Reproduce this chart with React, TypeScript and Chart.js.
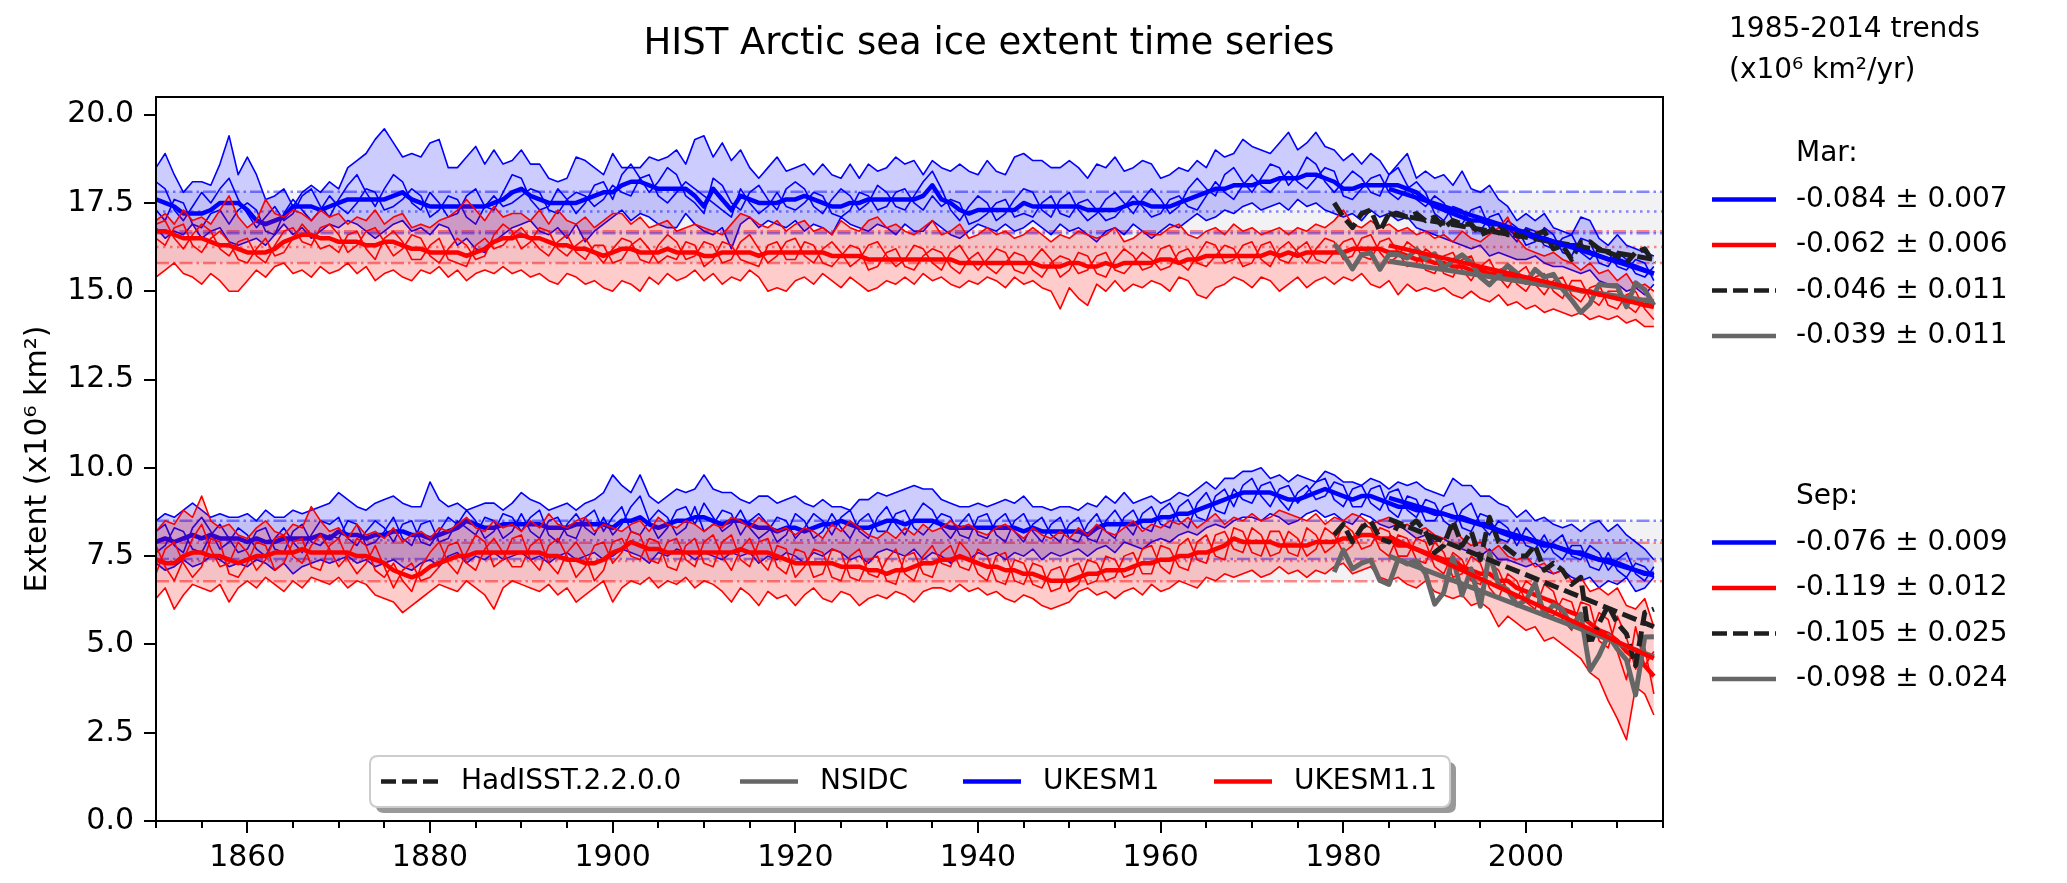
import React, { useEffect, useRef } from 'react';
import { Chart, registerables } from 'chart.js';

Chart.register(...registerables);

// ---------- categories ----------
const FIRST_YEAR = 1850;
const LAST_YEAR = 2014;
const YEARS = Array.from({ length: LAST_YEAR - FIRST_YEAR + 1 }, (_, i) => FIRST_YEAR + i);
const OBS_YEARS = Array.from({ length: 36 }, (_, i) => 1979 + i);
const TREND_YEARS = [1985, 2014];
const REF_SPAN = [1850, 2015];
const X_TICKS = [1860, 1880, 1900, 1920, 1940, 1960, 1980, 2000];
const Y_TICKS = [0, 2.5, 5, 7.5, 10, 12.5, 15, 17.5, 20];

// ---------- March, UKESM1 ensemble ----------
const MAR_UKESM1_MEAN = [
  17.6, 17.5, 17.4, 17.2, 17.2, 17.2, 17.3, 17.5, 17.5, 17.5,
  17.3, 17.0, 16.9, 17.0, 17.1, 17.4, 17.4, 17.4, 17.3, 17.4,
  17.5, 17.6, 17.6, 17.6, 17.6, 17.6, 17.7, 17.8, 17.6, 17.5,
  17.4, 17.4, 17.4, 17.4, 17.4, 17.4, 17.4, 17.5, 17.6, 17.8,
  17.9, 17.7, 17.6, 17.5, 17.5, 17.5, 17.5, 17.6, 17.7, 17.8,
  17.8, 18.0, 18.1, 18.1, 18.0, 17.9, 17.9, 17.9, 17.9, 17.7,
  17.4, 17.9, 17.6, 17.3, 17.7, 17.6, 17.5, 17.5, 17.5, 17.6,
  17.6, 17.7, 17.6, 17.5, 17.4, 17.4, 17.5, 17.5, 17.6, 17.6,
  17.6, 17.6, 17.6, 17.6, 17.7, 18.0, 17.6, 17.5, 17.3, 17.2,
  17.3, 17.3, 17.3, 17.3, 17.3, 17.5, 17.4, 17.4, 17.4, 17.4,
  17.4, 17.4, 17.3, 17.3, 17.3, 17.3, 17.4, 17.5, 17.5, 17.4,
  17.4, 17.4, 17.5, 17.6, 17.7, 17.8, 17.9, 17.9, 18.0, 18.0,
  18.0, 18.1, 18.1, 18.2, 18.2, 18.2, 18.3, 18.3, 18.2, 18.1,
  17.9, 17.9, 18.0, 18.0, 18.0, 18.0, 18.0, 17.9, 17.8, 17.6,
  17.4, 17.3, 17.2, 17.1, 17.0, 17.0, 16.9, 16.9, 16.8, 16.6,
  16.6, 16.5, 16.5, 16.4, 16.3, 16.3, 16.3, 16.1, 16.0, 15.9,
  15.9, 15.8, 15.7, 15.6, 15.5,
];
const MAR_UKESM1_MAX = [
  18.5, 18.9, 18.3, 17.8, 18.1, 18.1, 18.0, 18.6, 19.4, 18.3,
  18.8, 18.3, 17.6, 17.7, 17.9, 17.4, 17.8, 18.0, 17.8, 18.1,
  17.9, 18.5, 18.7, 18.9, 19.3, 19.6, 19.2, 18.8, 18.9, 18.8,
  19.2, 19.3, 18.5, 18.5, 18.8, 19.1, 18.6, 19.0, 18.6, 18.7,
  19.0, 18.6, 18.6, 18.2, 18.1, 18.2, 18.8, 18.7, 18.5, 18.3,
  18.9, 18.5, 18.5, 18.5, 18.8, 18.7, 18.8, 19.0, 18.6, 19.3,
  19.4, 18.8, 19.2, 18.7, 19.0, 18.5, 18.2, 18.5, 18.8, 18.4,
  18.5, 18.6, 18.3, 18.6, 18.3, 18.2, 18.6, 18.2, 18.6, 18.4,
  18.5, 18.8, 18.6, 18.7, 18.3, 18.7, 18.5, 18.4, 18.6, 18.4,
  18.3, 18.7, 18.4, 18.3, 18.8, 18.9, 18.7, 18.7, 18.5, 18.5,
  18.7, 18.5, 18.2, 18.6, 18.5, 18.8, 18.4, 18.5, 18.7, 18.6,
  18.2, 18.3, 18.5, 18.4, 18.7, 18.5, 19.0, 18.8, 18.9, 19.3,
  19.1, 19.0, 18.9, 19.2, 19.5, 19.0, 19.2, 19.5, 19.1, 19.0,
  18.7, 18.9, 18.6, 18.9, 18.7, 18.3, 18.6, 18.9, 18.2, 18.4,
  18.2, 18.3, 18.0, 18.4, 17.9, 17.8, 18.0, 17.6, 17.4, 17.0,
  17.2, 17.0, 17.2, 16.8, 16.7, 16.6, 17.1, 17.0, 16.5, 16.3,
  16.6, 16.3, 16.2, 16.1, 16.0,
];
const MAR_UKESM1_MIN = [
  16.8, 16.5, 16.7, 16.6, 16.9, 16.5, 16.7, 16.8, 16.4, 16.3,
  16.4, 16.5, 16.3, 16.6, 16.9, 16.6, 16.8, 16.5, 16.7, 16.9,
  16.8, 17.0, 16.9, 16.7, 16.5, 16.7, 16.9, 17.0, 16.7, 16.8,
  16.6, 16.9, 16.8, 16.3, 16.5, 16.2, 16.1, 16.4, 16.6, 16.8,
  16.9, 17.0, 16.7, 16.6, 16.8, 16.5, 16.9, 16.4, 16.7, 16.9,
  17.1, 17.3, 17.0, 17.2, 17.1, 16.9, 16.8, 16.8, 17.2, 16.9,
  16.7, 16.6, 16.8, 16.2, 16.9, 17.1, 16.8, 17.0, 16.9, 16.8,
  17.0, 16.7, 16.9, 16.8, 16.6, 17.1, 16.9, 16.8, 16.7, 16.9,
  16.8, 16.6, 16.9, 16.7, 16.7, 17.0, 16.8, 16.6, 16.5, 16.7,
  16.9, 16.8, 16.7, 16.9, 16.7, 16.8, 17.0, 16.8, 16.6, 16.9,
  16.7, 16.8, 16.6, 16.4, 16.7, 16.8, 16.6, 16.9, 16.7, 16.5,
  16.7, 16.9, 16.8, 17.0, 17.2, 17.0, 17.1, 17.3, 17.2, 17.4,
  17.5, 17.3, 17.4, 17.5, 17.3, 17.6, 17.4, 17.5, 17.3, 17.2,
  17.1, 17.2, 17.0, 17.3, 17.1, 17.2, 17.0, 17.1, 16.8, 16.7,
  16.6, 16.5, 16.4, 16.3, 16.2, 16.3, 16.0, 16.1, 16.0, 15.9,
  15.9, 16.0, 15.8, 15.7, 15.7, 15.6, 15.5, 15.6, 15.3, 15.2,
  15.2, 15.0, 15.1, 14.9, 15.2,
];
const MAR_UKESM1_RUN_A = [
  18.1, 17.9, 17.3, 17.0, 17.4, 17.8, 17.5, 17.9, 18.2, 17.6,
  17.2, 16.8, 17.1, 17.4, 17.0, 17.2, 17.7, 17.9, 17.4, 17.1,
  17.6, 18.0, 18.3, 17.8, 17.4, 17.9, 18.3, 18.1, 17.5, 17.3,
  17.8, 17.5, 17.1, 17.2, 17.7, 17.9, 17.4, 17.3, 17.8, 18.3,
  18.2, 17.6, 17.3, 17.4, 17.9, 17.6, 17.2, 17.5, 18.0, 18.1,
  17.6, 18.3, 18.6, 18.2, 17.8, 18.1, 18.5, 18.3, 17.7, 17.5,
  17.2, 18.2, 18.0, 17.5, 17.3, 17.8, 18.0, 17.6, 17.3, 17.9,
  18.1, 17.9, 17.4, 17.2, 17.6, 17.9, 17.7, 17.3, 17.5, 18.0,
  17.8, 17.4, 17.3, 17.7, 18.1, 18.4, 17.9, 17.3, 17.0, 17.4,
  17.7, 17.5, 17.0, 17.2, 17.6, 17.9, 17.8, 17.3, 17.1, 17.6,
  17.8, 17.3, 17.0, 17.2, 17.6, 17.8, 17.5, 17.2, 17.6, 17.9,
  17.6, 17.2, 17.4, 17.9, 18.2, 17.9, 17.7, 18.3, 18.5, 18.1,
  17.8, 18.2, 18.6, 18.5, 18.0, 18.3, 18.8, 18.6, 18.1, 17.8,
  18.1, 18.4, 18.2, 17.8, 17.7, 18.3, 18.5, 18.0, 17.6, 17.4,
  17.7, 17.5, 17.0, 16.9, 17.3, 17.4, 16.8, 16.6, 17.0, 16.8,
  16.3, 16.4, 16.8, 16.6, 16.1, 16.0, 16.5, 16.4, 15.8, 15.7,
  16.1, 15.9, 15.5, 15.4, 15.7,
];
const MAR_UKESM1_RUN_B = [
  17.3, 17.0, 17.6, 17.5, 16.9, 16.8, 17.2, 17.3, 16.9, 17.3,
  17.5, 17.3, 16.7, 16.6, 17.2, 17.6, 17.3, 17.0, 17.3, 17.7,
  17.4, 17.2, 17.5, 17.9, 17.8, 17.3, 17.4, 17.6, 17.9, 17.7,
  17.1, 17.3, 17.7, 17.6, 17.1, 16.9, 17.4, 17.7, 17.4, 17.5,
  17.7, 17.9, 17.8, 17.3, 17.2, 17.6, 17.8, 17.7, 17.4, 17.6,
  18.0, 17.8, 17.7, 18.2, 18.3, 17.7, 17.5, 17.8, 18.1, 17.9,
  17.7, 17.5, 17.3, 17.1, 17.9, 17.5, 17.2, 17.4, 17.8, 17.4,
  17.3, 17.5, 17.8, 17.7, 17.2, 17.1, 17.3, 17.8, 17.7, 17.3,
  17.4, 17.8, 17.9, 17.5, 17.3, 17.7, 17.4, 17.6, 17.5, 16.9,
  17.0, 17.2, 17.5, 17.6, 17.1, 17.2, 17.1, 17.5, 17.7, 17.2,
  17.1, 17.5, 17.6, 17.3, 17.0, 17.1, 17.4, 17.7, 17.4, 17.1,
  17.2, 17.6, 17.7, 17.4, 17.3, 17.7, 18.1, 17.8, 17.6, 18.0,
  18.3, 18.0, 17.8, 18.1, 18.4, 18.1, 17.9, 18.2, 18.5, 18.4,
  17.7, 17.6, 17.9, 18.2, 18.3, 17.8, 17.6, 17.9, 18.1, 17.8,
  17.2, 17.0, 17.4, 17.3, 16.8, 16.7, 17.1, 17.2, 16.7, 16.4,
  16.8, 16.7, 16.3, 16.2, 16.5, 16.6, 16.1, 15.9, 16.2, 16.1,
  15.7, 15.6, 15.9, 15.8, 15.3,
];

// ---------- March, UKESM1.1 ensemble ----------
const MAR_UKESM11_MEAN = [
  16.7, 16.7, 16.6, 16.5, 16.5, 16.5, 16.4, 16.3, 16.3, 16.2,
  16.1, 16.1, 16.1, 16.2, 16.4, 16.5, 16.6, 16.6, 16.5, 16.5,
  16.4, 16.4, 16.4, 16.3, 16.3, 16.4, 16.4, 16.3, 16.2, 16.2,
  16.1, 16.1, 16.1, 16.1, 16.0, 16.1, 16.2, 16.4, 16.5, 16.5,
  16.6, 16.5, 16.5, 16.4, 16.3, 16.3, 16.2, 16.2, 16.1, 16.0,
  16.1, 16.2, 16.2, 16.1, 16.1, 16.1, 16.2, 16.1, 16.1, 16.1,
  16.0, 16.0, 16.1, 16.1, 16.1, 16.1, 16.0, 16.1, 16.1, 16.1,
  16.1, 16.1, 16.1, 16.1, 16.0, 16.0, 16.0, 16.0, 15.9, 15.9,
  15.9, 15.9, 15.9, 15.9, 15.9, 15.9, 15.9, 15.9, 15.8, 15.8,
  15.8, 15.8, 15.8, 15.8, 15.8, 15.8, 15.8, 15.7, 15.7, 15.7,
  15.8, 15.8, 15.7, 15.7, 15.8, 15.7, 15.8, 15.8, 15.8, 15.8,
  15.9, 15.9, 15.8, 15.9, 15.9, 16.0, 16.0, 16.0, 16.0, 16.0,
  16.0, 16.0, 16.1, 16.0, 16.1, 16.0, 16.1, 16.1, 16.1, 16.1,
  16.1, 16.2, 16.2, 16.2, 16.2, 16.1, 16.1, 16.0, 15.9, 15.9,
  15.8, 15.8, 15.7, 15.7, 15.6, 15.6, 15.5, 15.5, 15.4, 15.4,
  15.3, 15.3, 15.2, 15.2, 15.1, 15.1, 15.0, 15.0, 14.9, 14.9,
  14.8, 14.8, 14.7, 14.6, 14.6,
];
const MAR_UKESM11_MAX = [
  17.0, 17.2, 16.9, 17.3, 17.0, 17.1, 16.9, 17.3, 17.7, 17.1,
  16.8, 17.0, 17.6, 17.2, 17.1, 17.3, 17.2, 17.0, 17.3, 17.1,
  17.2, 16.9, 17.1, 17.0, 17.3, 16.9, 17.1, 17.2, 16.8, 16.9,
  16.8, 17.0, 17.1, 17.3, 17.6, 17.3, 17.0, 17.4, 17.1, 17.2,
  17.2, 17.0, 17.3, 16.9, 17.3, 17.0, 16.9, 17.1, 16.8, 17.0,
  17.2, 17.2, 16.9, 17.1, 16.8, 16.9, 17.0, 16.7, 16.8, 16.9,
  16.8, 16.7, 16.6, 16.9, 17.2, 17.1, 16.9, 16.8, 17.0, 16.7,
  16.9, 17.0, 16.7, 16.8, 16.6, 17.0, 16.8, 16.7, 17.0, 17.1,
  16.8, 16.9, 16.7, 16.6, 16.8, 17.0, 16.6, 16.7, 16.9, 16.5,
  16.6, 16.8, 16.6, 16.7, 16.5, 16.6, 16.8, 16.6, 16.4, 16.6,
  16.5, 16.7, 16.6, 16.5, 16.6, 16.8, 16.4, 16.5, 16.7, 16.6,
  16.6, 16.8, 16.9, 16.6, 16.5, 16.7, 16.8, 16.6, 16.9, 16.7,
  16.8, 16.6, 16.7, 16.8, 16.6, 16.8, 16.7, 16.9, 16.8, 17.0,
  17.3, 16.9, 16.8, 17.0, 16.8, 16.9, 16.7, 16.8, 16.6, 16.7,
  16.5, 16.6, 16.4, 16.7, 16.5, 16.4, 16.6, 16.8, 17.1, 16.5,
  16.2, 16.1, 16.0, 16.1, 15.9, 15.8, 15.6, 15.8, 15.5, 15.6,
  15.3, 15.5, 15.1, 15.2, 15.0,
];
const MAR_UKESM11_MIN = [
  15.4, 15.6, 15.8, 15.5, 15.4, 15.2, 15.5, 15.3, 15.0, 15.0,
  15.3, 15.6, 15.4, 15.7, 15.8, 15.5, 15.6, 15.4, 15.7, 15.5,
  15.6, 15.8, 15.5, 15.7, 15.3, 15.5, 15.6, 15.4, 15.3, 15.6,
  15.5, 15.7, 15.4, 15.6, 15.3, 15.5, 15.6, 15.5, 15.7, 15.5,
  15.6, 15.4, 15.5, 15.3, 15.2, 15.5, 15.4, 15.2, 15.3, 15.1,
  15.0, 15.3, 15.2, 15.0, 15.4, 15.2, 15.5, 15.3, 15.4, 15.6,
  15.3, 15.5, 15.2, 15.4, 15.3, 15.6, 15.4, 15.0, 15.1, 15.0,
  15.3, 15.4, 15.2, 15.5, 15.3, 15.1, 15.4, 15.2, 15.0, 15.1,
  15.3, 15.2, 15.4, 15.2, 15.5, 15.3, 15.4, 15.2, 15.1, 15.3,
  15.2, 15.4, 15.3, 15.1, 15.4, 15.2, 15.3, 15.1, 15.0, 14.5,
  15.1, 14.8, 14.6, 15.2, 15.0, 15.3, 15.0, 15.2, 15.1, 15.3,
  15.2, 15.0, 15.4, 15.3, 14.9, 14.8, 15.1, 15.2, 15.4, 15.3,
  15.1, 15.4, 15.3, 15.0, 15.2, 15.4, 15.1, 15.3, 15.4, 15.2,
  15.4, 15.3, 15.5, 15.2, 15.1, 15.3, 14.9, 15.2, 15.0, 15.1,
  15.0, 15.1, 14.9, 14.8, 15.0, 14.8, 14.7, 14.9, 14.6, 14.7,
  14.5, 14.6, 14.4, 14.5, 14.4, 14.3, 14.4, 14.2, 14.3, 14.2,
  14.3, 14.1, 14.2, 14.0, 14.0,
];
const MAR_UKESM11_RUN_A = [
  16.9, 17.0, 16.5, 16.2, 16.6, 16.9, 16.7, 16.2, 16.0, 16.4,
  16.5, 16.0, 15.8, 16.3, 16.7, 16.8, 16.4, 16.3, 16.8, 16.9,
  16.6, 16.1, 16.3, 16.7, 16.8, 16.4, 16.0, 16.2, 16.6, 16.5,
  16.0, 15.8, 16.2, 16.5, 16.3, 15.9, 16.0, 16.6, 16.9, 16.7,
  16.2, 16.4, 16.8, 16.7, 16.2, 16.0, 16.3, 16.5, 16.1, 15.8,
  16.2, 16.5, 16.4, 15.9, 15.8, 16.3, 16.6, 16.4, 15.9, 16.0,
  16.4, 16.3, 15.8, 15.9, 16.4, 16.6, 16.2, 15.8, 16.0, 16.4,
  16.5, 16.0, 15.8, 16.2, 16.4, 16.1, 15.7, 15.9, 16.3, 16.4,
  16.0, 15.7, 15.9, 16.3, 16.2, 15.8, 15.6, 16.1, 16.3, 15.9,
  15.6, 15.9, 16.2, 16.1, 15.6, 15.5, 15.9, 16.2, 15.9, 15.4,
  15.6, 16.1, 16.0, 15.5, 15.4, 15.9, 16.2, 16.0, 15.6, 15.7,
  16.2, 16.3, 15.8, 15.6, 16.0, 16.4, 16.3, 15.8, 15.9, 16.3,
  16.4, 15.9, 15.7, 16.2, 16.4, 16.1, 15.8, 16.2, 16.5, 16.4,
  15.9, 16.0, 16.5, 16.6, 16.1, 15.8, 16.0, 16.4, 16.2, 15.6,
  15.5, 16.0, 16.1, 15.6, 15.3, 15.7, 15.9, 15.4, 15.1, 15.5,
  15.7, 15.2, 14.9, 15.3, 15.4, 14.9, 14.7, 15.1, 15.2, 14.6,
  14.5, 14.9, 15.0, 14.5, 14.2,
];
const MAR_UKESM11_RUN_B = [
  16.5, 16.3, 16.8, 16.9, 16.3, 16.1, 16.5, 16.7, 16.4, 15.9,
  15.8, 16.2, 16.5, 16.0, 16.1, 16.5, 16.9, 16.6, 16.2, 16.3,
  16.1, 16.6, 16.7, 16.2, 15.9, 16.5, 16.7, 16.4, 15.9, 15.9,
  16.3, 16.5, 15.9, 15.8, 15.7, 16.3, 16.5, 16.2, 16.3, 16.6,
  16.8, 16.5, 16.2, 16.0, 16.4, 16.6, 16.1, 15.9, 16.3, 16.3,
  15.8, 15.9, 16.3, 16.5, 16.2, 15.8, 16.0, 15.9, 16.4, 16.3,
  15.7, 15.9, 16.4, 16.3, 15.9, 15.8, 15.7, 16.3, 16.4, 15.9,
  15.9, 16.4, 16.3, 15.8, 15.7, 16.0, 16.3, 16.2, 15.6, 15.7,
  16.1, 16.2, 15.7, 15.6, 16.0, 16.2, 16.1, 15.7, 15.5, 15.9,
  16.1, 15.7, 15.5, 15.8, 16.1, 16.0, 15.6, 15.4, 15.8, 16.0,
  15.9, 15.5, 15.6, 16.0, 16.1, 15.6, 15.5, 15.8, 16.1, 15.9,
  15.6, 15.7, 16.1, 16.2, 15.8, 15.7, 16.0, 16.3, 16.2, 15.7,
  15.8, 16.3, 16.4, 15.9, 15.8, 16.2, 16.4, 15.9, 15.8, 16.1,
  16.4, 16.5, 16.0, 15.9, 16.4, 16.5, 16.1, 15.7, 15.8, 16.2,
  16.0, 15.5, 15.4, 15.9, 16.0, 15.4, 15.2, 15.6, 15.7, 15.2,
  15.0, 15.4, 15.5, 15.0, 14.8, 15.3, 15.3, 14.8, 14.6, 15.0,
  15.0, 14.6, 14.4, 14.8, 14.7,
];

// ---------- September, UKESM1 ensemble ----------
const SEP_UKESM1_MEAN = [
  7.9, 8.0, 7.9, 8.0, 8.1, 8.0, 8.1, 8.0, 8.0, 8.0,
  7.9, 8.0, 7.9, 7.9, 8.0, 8.0, 8.0, 8.0, 8.1, 8.0,
  8.2, 8.1, 8.1, 8.0, 8.1, 8.1, 8.2, 8.2, 8.1, 8.1,
  8.0, 8.1, 8.2, 8.3, 8.5, 8.4, 8.3, 8.3, 8.4, 8.4,
  8.4, 8.4, 8.4, 8.3, 8.3, 8.3, 8.4, 8.4, 8.4, 8.4,
  8.3, 8.5, 8.5, 8.6, 8.4, 8.3, 8.4, 8.5, 8.5, 8.6,
  8.6, 8.5, 8.4, 8.5, 8.5, 8.4, 8.3, 8.3, 8.2, 8.3,
  8.3, 8.2, 8.3, 8.4, 8.4, 8.5, 8.4, 8.3, 8.3, 8.4,
  8.5, 8.5, 8.4, 8.5, 8.5, 8.5, 8.4, 8.3, 8.3, 8.3,
  8.3, 8.3, 8.3, 8.3, 8.3, 8.2, 8.3, 8.2, 8.2, 8.2,
  8.2, 8.2, 8.1, 8.3, 8.4, 8.4, 8.4, 8.4, 8.5, 8.5,
  8.6, 8.6, 8.7, 8.7, 8.8, 8.9, 9.0, 9.1, 9.2, 9.3,
  9.3, 9.3, 9.3, 9.2, 9.1, 9.1, 9.2, 9.3, 9.4, 9.3,
  9.2, 9.1, 9.2, 9.2, 9.1, 9.0, 8.9, 8.9, 8.8, 8.8,
  8.7, 8.7, 8.6, 8.6, 8.5, 8.4, 8.4, 8.2, 8.1, 8.0,
  8.0, 7.9, 7.8, 7.8, 7.7, 7.6, 7.6, 7.5, 7.4, 7.4,
  7.3, 7.2, 7.1, 7.0, 7.0,
];
const SEP_UKESM1_MAX = [
  8.5, 8.7, 8.6, 8.8, 9.0, 8.8, 8.6, 8.7, 8.6, 8.6,
  8.7, 8.5, 8.8, 8.6, 8.6, 8.8, 8.7, 8.8, 8.9, 9.0,
  9.3, 9.1, 8.9, 8.8, 9.0, 9.1, 9.2, 9.0, 8.9, 8.9,
  9.6, 9.1, 8.9, 9.0, 8.8, 8.9, 9.0, 9.0, 8.8, 9.0,
  9.3, 9.1, 9.0, 8.8, 8.9, 9.0, 8.8, 9.0, 9.1, 9.3,
  9.8, 9.5, 9.3, 9.8, 9.2, 9.0, 9.2, 9.4, 9.3, 9.4,
  9.8, 9.4, 9.3, 9.3, 9.1, 9.0, 9.2, 9.2, 9.0, 9.1,
  9.2, 9.0, 8.9, 9.1, 8.9, 8.9, 8.8, 9.1, 9.1, 9.3,
  9.2, 9.3, 9.4, 9.5, 9.4, 9.4, 9.1, 9.0, 8.9, 8.9,
  9.0, 8.9, 9.0, 9.1, 9.0, 9.2, 8.9, 8.9, 8.8, 8.9,
  8.9, 8.8, 9.0, 8.9, 9.2, 9.0, 9.3, 9.0, 9.1, 9.2,
  9.0, 9.1, 9.3, 9.2, 9.4, 9.6, 9.4, 9.7, 9.7, 9.9,
  9.9, 10.0, 9.7, 9.8, 9.6, 9.8, 9.7, 9.6, 9.9, 9.8,
  9.6, 9.6, 9.5, 9.7, 9.6, 9.4, 9.6, 9.5, 9.6, 9.4,
  9.3, 9.2, 9.7, 9.5, 9.5, 9.2, 9.2, 9.0, 8.9, 8.6,
  8.8, 8.5, 8.6, 8.4, 8.3, 8.4, 8.2, 8.4, 8.5, 8.2,
  8.4, 8.1, 7.9, 7.7, 7.4,
];
const SEP_UKESM1_MIN = [
  7.3, 7.1, 7.2, 7.4, 7.2, 7.3, 7.5, 7.4, 7.2, 7.3,
  7.2, 7.4, 7.3, 7.1, 7.3, 7.0, 7.2, 7.3, 7.4, 7.3,
  7.4, 7.5, 7.3, 7.4, 7.2, 7.3, 7.4, 7.2, 7.1, 7.3,
  7.4, 7.2, 7.5, 7.6, 7.3, 7.5, 7.4, 7.6, 7.4, 7.5,
  7.6, 7.4, 7.5, 7.3, 7.5, 7.6, 7.4, 7.5, 7.6, 7.4,
  7.5, 7.7, 7.6, 7.5, 7.3, 7.6, 7.5, 7.7, 7.6, 7.4,
  7.6, 7.5, 7.4, 7.6, 7.5, 7.6, 7.3, 7.5, 7.4, 7.6,
  7.5, 7.3, 7.6, 7.5, 7.7, 7.6, 7.4, 7.5, 7.3, 7.6,
  7.7, 7.6, 7.5, 7.7, 7.4, 7.6, 7.5, 7.3, 7.5, 7.4,
  7.6, 7.5, 7.6, 7.4, 7.6, 7.5, 7.7, 7.4, 7.6, 7.5,
  7.6, 7.7, 7.5, 7.7, 7.8, 7.6, 7.9, 7.8, 7.7, 7.9,
  8.0, 7.9, 8.1, 8.2, 8.1, 8.3, 8.4, 8.3, 8.5, 8.6,
  8.6, 8.5, 8.7, 8.6, 8.4, 8.5, 8.7, 8.8, 8.6, 8.7,
  8.5, 8.4, 8.7, 8.6, 8.4, 8.3, 8.4, 8.2, 8.0, 8.1,
  7.9, 8.0, 7.8, 7.7, 7.6, 7.5, 7.7, 7.4, 7.4, 7.3,
  7.2, 7.3, 7.1, 7.0, 7.1, 6.9, 6.8, 6.9, 6.6, 6.8,
  6.7, 6.9, 6.5, 6.6, 6.9,
];
const SEP_UKESM1_RUN_A = [
  8.2, 8.4, 7.8, 7.6, 8.3, 8.6, 8.2, 7.7, 7.9, 8.3,
  8.1, 7.7, 7.5, 8.0, 8.3, 7.9, 7.6, 8.1, 8.5, 8.4,
  8.6, 8.0, 7.8, 8.2, 8.5, 8.3, 7.9, 8.4, 8.5, 7.9,
  7.8, 8.2, 8.6, 8.4, 8.8, 8.5, 8.0, 8.2, 8.7, 8.6,
  8.2, 8.6, 8.8, 8.1, 7.9, 8.4, 8.7, 8.3, 8.1, 8.6,
  8.1, 8.4, 8.9, 9.2, 8.5, 8.0, 8.3, 8.8, 8.9, 8.4,
  9.0, 8.6, 8.2, 8.4, 8.8, 8.3, 8.0, 8.2, 8.6, 8.5,
  8.0, 8.3, 8.7, 8.5, 8.1, 8.6, 8.8, 8.2, 8.0, 8.6,
  8.9, 8.4, 8.1, 8.6, 9.0, 8.8, 8.3, 8.0, 8.4, 8.7,
  8.1, 8.0, 8.5, 8.7, 8.2, 7.9, 8.4, 8.6, 8.1, 7.9,
  8.4, 8.6, 8.0, 7.9, 8.5, 8.8, 8.4, 8.1, 8.7, 8.9,
  8.4, 8.3, 8.9, 9.1, 8.6, 8.5, 9.2, 9.4, 8.9, 9.5,
  9.7, 9.2, 8.9, 9.4, 9.5, 9.0, 9.3, 9.6, 9.7, 9.1,
  8.9, 9.4, 9.5, 9.0, 8.8, 9.3, 9.4, 8.8, 8.6, 9.1,
  9.0, 8.5, 8.3, 8.8, 9.0, 8.4, 8.1, 8.5, 8.3, 7.8,
  8.3, 8.0, 7.6, 7.9, 8.1, 7.5, 7.4, 7.8, 7.6, 7.1,
  7.4, 7.6, 7.0, 6.8, 7.2,
];
const SEP_UKESM1_RUN_B = [
  7.6, 7.8, 8.3, 8.2, 7.7, 7.6, 8.1, 8.4, 8.0, 7.6,
  7.7, 8.2, 8.3, 7.7, 7.6, 8.2, 8.4, 7.9, 7.8, 8.1,
  8.0, 8.5, 8.4, 7.8, 7.9, 8.2, 8.6, 8.0, 7.8, 8.4,
  8.5, 7.9, 8.0, 8.5, 8.3, 8.1, 8.6, 8.5, 8.0, 8.2,
  8.7, 8.2, 8.0, 8.5, 8.6, 8.1, 8.0, 8.6, 8.8, 8.2,
  8.6, 8.9, 8.2, 8.1, 8.5, 8.8, 8.6, 8.1, 8.3, 8.9,
  8.2, 8.4, 8.8, 8.7, 8.1, 8.5, 8.7, 8.4, 7.9, 8.1,
  8.7, 8.5, 8.0, 8.2, 8.7, 8.3, 8.0, 8.5, 8.7, 8.2,
  8.2, 8.7, 8.8, 8.3, 8.1, 8.4, 8.7, 8.6, 8.1, 8.0,
  8.6, 8.7, 8.1, 7.9, 8.5, 8.7, 8.2, 7.9, 8.4, 8.6,
  8.0, 7.9, 8.4, 8.7, 8.2, 8.0, 8.6, 8.8, 8.3, 8.2,
  8.8, 9.0, 8.5, 8.3, 9.0, 9.3, 8.8, 8.7, 9.4, 9.1,
  9.0, 9.5, 9.6, 9.1, 8.8, 9.3, 9.5, 9.1, 9.2, 9.6,
  9.5, 8.9, 8.9, 9.4, 9.5, 8.8, 8.6, 9.2, 9.1, 8.5,
  8.5, 8.9, 9.0, 8.3, 8.2, 8.7, 8.6, 8.0, 7.9, 8.3,
  7.8, 7.7, 8.1, 7.6, 7.4, 7.8, 7.8, 7.2, 7.1, 7.6,
  7.1, 6.9, 7.3, 7.2, 6.9,
];

// ---------- September, UKESM1.1 ensemble ----------
const SEP_UKESM11_MEAN = [
  7.4, 7.3, 7.3, 7.5, 7.6, 7.6, 7.5, 7.5, 7.4, 7.3,
  7.4, 7.5, 7.5, 7.6, 7.6, 7.6, 7.7, 7.6, 7.6, 7.6,
  7.6, 7.6, 7.5, 7.5, 7.4, 7.3, 7.1, 7.0, 6.9, 7.0,
  7.2, 7.3, 7.4, 7.5, 7.5, 7.6, 7.6, 7.6, 7.6, 7.6,
  7.6, 7.6, 7.6, 7.5, 7.5, 7.4, 7.4, 7.3, 7.3, 7.4,
  7.6, 7.7, 7.9, 7.8, 7.7, 7.7, 7.6, 7.6, 7.6, 7.6,
  7.6, 7.6, 7.6, 7.6, 7.7, 7.6, 7.6, 7.6, 7.5, 7.4,
  7.3, 7.3, 7.3, 7.3, 7.3, 7.2, 7.2, 7.2, 7.1, 7.1,
  7.0, 7.1, 7.1, 7.2, 7.3, 7.3, 7.4, 7.4, 7.5, 7.4,
  7.3, 7.2, 7.2, 7.1, 7.1, 7.0, 7.0, 6.9, 6.8, 6.8,
  6.8, 6.9, 7.0, 7.0, 7.1, 7.1, 7.1, 7.2, 7.3, 7.3,
  7.4, 7.4, 7.5, 7.5, 7.6, 7.6, 7.7, 7.8, 8.0, 7.9,
  7.9, 7.9, 7.9, 7.8, 7.8, 7.8, 7.8, 7.9, 7.9, 7.9,
  8.0, 8.0, 8.1, 8.1, 8.0, 8.0, 7.8, 7.8, 7.7, 7.6,
  7.5, 7.4, 7.4, 7.2, 7.1, 7.0, 7.0, 6.8, 6.8, 6.6,
  6.5, 6.4, 6.3, 6.2, 6.0, 5.9, 5.8, 5.6, 5.4, 5.3,
  5.1, 4.8, 4.6, 4.4, 4.1,
];
const SEP_UKESM11_MAX = [
  8.2, 8.5, 8.4, 8.8, 8.6, 9.2, 8.5, 8.3, 8.4, 8.1,
  8.0, 8.3, 8.5, 8.2, 8.1, 8.4, 8.3, 8.9, 8.5, 8.2,
  8.3, 8.0, 8.4, 8.1, 8.2, 8.0, 8.3, 7.9, 8.1, 8.2,
  8.0, 8.3, 8.2, 8.4, 8.6, 8.3, 8.2, 8.5, 8.3, 8.4,
  8.2, 8.5, 8.3, 8.7, 8.4, 8.3, 8.5, 8.6, 8.2, 8.4,
  8.3, 8.2, 8.4, 8.5, 8.2, 8.6, 8.4, 8.3, 8.5, 8.4,
  8.2, 8.4, 8.3, 8.6, 8.5, 8.3, 8.6, 8.4, 8.2, 8.3,
  8.1, 8.3, 8.2, 8.0, 8.4, 8.2, 8.5, 8.3, 8.1, 8.0,
  8.2, 8.0, 8.3, 8.1, 8.4, 8.2, 8.3, 8.5, 8.3, 8.4,
  8.2, 8.1, 8.3, 8.4, 8.2, 8.0, 8.3, 8.1, 8.0, 8.2,
  8.0, 8.3, 8.1, 8.4, 8.2, 8.1, 8.3, 8.5, 8.2, 8.4,
  8.3, 8.5, 8.4, 8.6, 8.3, 8.5, 8.7, 8.4, 8.6, 8.5,
  8.7, 8.5, 8.6, 8.8, 8.7, 8.6, 8.5, 8.7, 8.4, 8.6,
  8.5, 8.7, 8.6, 8.4, 8.5, 8.6, 8.3, 8.4, 8.2, 8.3,
  8.1, 8.0, 8.3, 8.0, 7.8, 7.9, 7.6, 7.8, 7.5, 7.4,
  7.5, 7.2, 7.3, 7.0, 7.1, 6.8, 6.9, 6.5, 6.6, 6.4,
  6.6, 6.1, 6.0, 6.3, 5.5,
];
const SEP_UKESM11_MIN = [
  6.3, 6.6, 6.0, 6.4, 6.7, 6.6, 6.5, 6.7, 6.2, 6.6,
  6.8, 6.6, 6.9, 6.7, 6.5, 6.8, 6.6, 6.9, 6.8, 6.7,
  6.9, 6.6, 6.8, 6.7, 6.4, 6.3, 6.2, 5.9, 6.1, 6.3,
  6.5, 6.7, 6.6, 6.5, 6.8, 6.6, 6.4, 6.0, 6.6, 6.8,
  6.7, 6.6, 6.5, 6.7, 6.4, 6.6, 6.2, 6.4, 6.6, 6.8,
  6.2, 6.6, 6.8, 6.7, 6.9, 6.6, 6.8, 6.7, 6.9, 6.6,
  6.8, 6.7, 6.5, 6.2, 6.6, 6.4, 6.1, 6.5, 6.3, 6.4,
  6.1, 6.4, 6.6, 6.3, 6.2, 6.5, 6.4, 6.1, 6.3, 6.4,
  6.3, 6.5, 6.4, 6.2, 6.5, 6.6, 6.6, 6.5, 6.7, 6.5,
  6.6, 6.4, 6.5, 6.3, 6.2, 6.4, 6.3, 6.1, 6.0, 6.1,
  6.2, 6.5, 6.6, 6.4, 6.5, 6.3, 6.5, 6.6, 6.4, 6.7,
  6.5, 6.6, 6.8, 6.7, 6.6, 6.9, 6.8, 7.0, 6.9, 7.0,
  7.1, 6.9, 7.0, 7.2, 7.0, 7.1, 6.9, 7.1, 7.0, 7.2,
  7.3, 7.0, 7.1, 7.2, 6.9, 6.8, 6.9, 6.7, 6.6, 6.8,
  6.5, 6.4, 6.3, 6.4, 6.1, 6.2, 6.0, 5.5, 5.8, 5.6,
  5.4, 5.5, 5.1, 5.2, 5.0, 4.8, 4.6, 4.2, 4.0, 3.4,
  2.9, 2.3, 3.8, 3.6, 3.0,
];
const SEP_UKESM11_RUN_A = [
  7.8, 7.2, 6.8, 7.4, 8.0, 8.4, 7.7, 7.2, 7.3, 7.9,
  7.6, 7.1, 7.4, 8.0, 8.1, 7.5, 7.3, 7.8, 8.1, 7.7,
  7.2, 7.5, 8.0, 7.8, 7.1, 6.9, 7.3, 6.8, 6.5, 7.2,
  7.6, 7.9, 7.3, 7.0, 7.6, 8.1, 7.9, 7.2, 7.4, 8.0,
  8.1, 7.4, 7.1, 7.8, 8.0, 7.5, 6.9, 7.2, 7.8, 7.9,
  7.3, 7.6, 8.2, 8.1, 7.4, 7.3, 7.9, 8.0, 7.4, 7.2,
  7.9, 8.1, 7.5, 7.1, 7.7, 8.0, 7.4, 7.1, 7.8, 7.7,
  6.9, 7.2, 7.7, 7.6, 6.9, 6.8, 7.5, 7.7, 7.0, 6.9,
  7.4, 7.7, 7.0, 6.8, 7.5, 7.8, 7.3, 7.2, 7.9, 7.6,
  7.0, 6.8, 7.5, 7.6, 6.8, 6.7, 7.3, 7.2, 6.5, 6.6,
  7.2, 7.3, 6.7, 6.8, 7.5, 7.4, 6.9, 7.0, 7.7, 7.8,
  7.2, 7.0, 7.8, 8.0, 7.4, 7.3, 8.1, 8.2, 7.7, 7.6,
  8.3, 8.1, 7.5, 7.6, 8.2, 8.0, 7.5, 7.7, 8.3, 8.1,
  7.6, 7.8, 8.4, 8.3, 7.7, 7.5, 8.1, 8.0, 7.4, 7.3,
  7.9, 7.6, 6.9, 7.0, 7.5, 7.3, 6.6, 6.3, 7.0, 6.8,
  6.2, 6.0, 6.7, 6.5, 5.7, 5.4, 6.2, 6.1, 5.1, 4.9,
  5.8, 5.2, 4.3, 4.9, 3.6,
];
const SEP_UKESM11_RUN_B = [
  7.0, 7.7, 7.9, 7.3, 6.9, 7.2, 8.0, 7.9, 7.0, 6.9,
  7.3, 7.9, 7.8, 7.1, 7.3, 7.9, 8.0, 7.2, 7.1, 7.8,
  8.0, 7.4, 7.0, 7.3, 7.8, 7.2, 6.6, 7.1, 7.3, 6.8,
  6.9, 7.2, 7.8, 7.9, 7.3, 7.1, 7.7, 8.0, 7.6, 7.2,
  7.2, 7.8, 8.0, 7.3, 7.0, 7.6, 7.9, 7.5, 6.8, 7.1,
  7.9, 8.0, 7.5, 7.4, 8.0, 7.9, 7.2, 7.1, 7.8, 8.0,
  7.3, 7.2, 7.9, 8.1, 7.4, 7.2, 7.9, 8.0, 7.2, 7.0,
  7.7, 7.6, 6.9, 7.0, 7.7, 7.6, 6.9, 6.8, 7.4, 7.5,
  6.8, 6.7, 7.5, 7.6, 7.0, 6.9, 7.6, 7.8, 7.2, 7.1,
  7.7, 7.5, 6.8, 6.7, 7.4, 7.3, 6.7, 6.6, 7.1, 7.2,
  6.5, 6.7, 7.4, 7.3, 6.8, 6.9, 7.5, 7.6, 7.0, 7.0,
  7.8, 7.7, 7.2, 7.1, 7.9, 8.1, 7.5, 7.4, 8.3, 8.2,
  7.6, 7.5, 8.2, 8.2, 7.6, 7.5, 8.3, 8.1, 7.6, 7.8,
  8.4, 8.2, 7.7, 7.8, 8.3, 8.2, 7.5, 7.5, 8.0, 7.9,
  7.2, 7.0, 7.6, 7.4, 6.8, 6.7, 7.3, 7.1, 6.5, 6.3,
  6.8, 6.6, 5.9, 5.8, 6.3, 6.2, 5.4, 5.2, 5.9, 5.7,
  4.8, 4.0, 5.5, 4.4, 4.8,
];

// ---------- observations 1979-2014 ----------
const MAR_HADISST = [
  17.5, 17.1, 16.8, 17.2, 17.3, 16.7, 17.2, 17.2, 17.1, 17.2,
  17.0, 17.1, 16.8, 17.0, 16.9, 16.9, 16.6, 16.7, 16.9, 16.6,
  16.6, 16.7, 16.6, 16.7, 16.2, 16.3, 15.9, 16.4, 16.4, 16.2,
  16.1, 16.0, 15.8, 16.1, 16.2, 15.8,
];
const MAR_NSIDC = [
  16.34, 16.04, 15.63, 16.04, 16.09, 15.62, 16.04, 16.04, 15.94, 16.19,
  15.92, 16.06, 15.66, 15.87, 16.03, 15.81, 15.40, 15.18, 15.45, 15.73,
  15.51, 15.25, 15.62, 15.40, 15.48, 15.06, 14.75, 14.40, 14.65, 15.19,
  15.16, 15.14, 14.56, 15.24, 15.04, 14.60,
];
const SEP_HADISST = [
  8.1, 8.4, 7.9, 8.3, 8.5, 8.0, 7.9, 8.4, 8.3, 8.5,
  8.2, 7.6, 7.8, 8.5, 7.8, 8.2, 7.4, 8.6, 7.9, 7.7,
  7.5, 7.5, 7.8, 7.1, 7.3, 7.1, 6.7, 6.9, 5.0, 5.6,
  6.1, 5.6, 5.3, 4.4, 5.9, 6.0,
];
const SEP_NSIDC = [
  7.05, 7.67, 7.14, 7.30, 7.39, 6.81, 6.70, 7.41, 7.28, 7.37,
  7.01, 6.14, 6.47, 7.47, 6.40, 7.14, 6.08, 7.58, 6.69, 6.54,
  6.12, 6.25, 6.73, 5.83, 6.12, 5.98, 5.50, 5.86, 4.27, 4.69,
  5.26, 4.87, 4.56, 3.57, 5.21, 5.22,
];

// ---------- 1985-2014 trend lines (values at 1985 and 2014) ----------
const MAR_TREND_UKESM1 = [17.9, 15.5];
const MAR_TREND_UKESM11 = [16.3, 14.55];
const MAR_TREND_HADISST = [17.2, 15.9];
const MAR_TREND_NSIDC = [15.85, 14.7];
const SEP_TREND_UKESM1 = [9.15, 6.95];
const SEP_TREND_UKESM11 = [8.05, 4.6];
const SEP_TREND_HADISST = [8.55, 5.5];
const SEP_TREND_NSIDC = [7.5, 4.65];

// ---------- control reference levels (upper, mean, lower) ----------
const MAR_UKESM1_REF = [17.82, 17.26, 16.64];
const MAR_UKESM11_REF = [16.7, 16.25, 15.8];
const SEP_UKESM1_REF = [8.5, 7.95, 7.42];
const SEP_UKESM11_REF = [7.88, 7.36, 6.79];

// ---------- text ----------
const TITLE = 'HIST Arctic sea ice extent time series';
const Y_LABEL = 'Extent (x10\u2076 km\u00b2)';
const TREND_HEADER = ['1985-2014 trends', '(x10\u2076 km\u00b2/yr)'];
const MAR_TREND_LABELS = ['-0.084 \u00b1 0.007', '-0.062 \u00b1 0.006', '-0.046 \u00b1 0.011', '-0.039 \u00b1 0.011'];
const SEP_TREND_LABELS = ['-0.076 \u00b1 0.009', '-0.119 \u00b1 0.012', '-0.105 \u00b1 0.025', '-0.098 \u00b1 0.024'];
const LEGEND_LABELS = ['HadISST.2.2.0.0', 'NSIDC', 'UKESM1', 'UKESM1.1'];

// ---------- styles ----------
const FONT = '"DejaVu Sans", "Liberation Sans", sans-serif';
const BLUE = '#0000ff';
const RED = '#ff0000';
const BLACK = '#1e1e1e';
const GREY = '#666666';
const BLUE_FILL = 'rgba(0,0,255,0.2)';
const RED_FILL = 'rgba(255,0,0,0.2)';
const BAND_FILL = 'rgba(70,70,110,0.07)';
const BLUE_REF = 'rgba(40,40,255,0.55)';
const RED_REF = 'rgba(255,40,40,0.55)';
const DASH_OBS = [15, 6];
const DASH_DOT = [13, 4, 2.5, 4];
const DOTTED = [2.5, 4.5];

const pts = (xs: number[], ys: number[]) => xs.map((x, i) => ({ x, y: ys[i] }));

function buildDatasets() {
  const ds: any[] = [];
  const add = (d: any) => {
    ds.push({ pointRadius: 0, pointHoverRadius: 0, tension: 0, fill: false, borderJoinStyle: 'round', ...d });
    return ds.length - 1;
  };
  const band = (ref: number[]) => {
    const lo = add({ data: pts(REF_SPAN, [ref[2], ref[2]]), borderWidth: 0, borderColor: 'transparent', order: 30 });
    add({ data: pts(REF_SPAN, [ref[0], ref[0]]), borderWidth: 0, borderColor: 'transparent', fill: { target: lo }, backgroundColor: BAND_FILL, order: 30 });
  };
  band(MAR_UKESM1_REF);
  band(MAR_UKESM11_REF);
  band(SEP_UKESM1_REF);
  band(SEP_UKESM11_REF);
  const refLines = (ref: number[], color: string) => {
    add({ data: pts(REF_SPAN, [ref[0], ref[0]]), borderColor: color, borderWidth: 2.5, borderDash: DASH_DOT, order: 20 });
    add({ data: pts(REF_SPAN, [ref[1], ref[1]]), borderColor: color, borderWidth: 2.5, borderDash: DOTTED, order: 20 });
    add({ data: pts(REF_SPAN, [ref[2], ref[2]]), borderColor: color, borderWidth: 2.5, borderDash: DASH_DOT, order: 20 });
  };
  refLines(MAR_UKESM1_REF, BLUE_REF);
  refLines(SEP_UKESM1_REF, BLUE_REF);
  refLines(MAR_UKESM11_REF, RED_REF);
  refLines(SEP_UKESM11_REF, RED_REF);
  const ens = (mean: number[], lo: number[], hi: number[], runs: number[][], color: string, fillColor: string, baseOrder: number) => {
    const loIdx = add({ data: pts(YEARS, lo), borderColor: color, borderWidth: 1.6, order: baseOrder + 1 });
    add({ data: pts(YEARS, hi), borderColor: color, borderWidth: 1.6, fill: { target: loIdx }, backgroundColor: fillColor, order: baseOrder + 1 });
    runs.forEach((r) => add({ data: pts(YEARS, r), borderColor: color, borderWidth: 1.6, order: baseOrder + 1 }));
    add({ data: pts(YEARS, mean), borderColor: color, borderWidth: 4.5, order: baseOrder });
  };
  ens(MAR_UKESM1_MEAN, MAR_UKESM1_MIN, MAR_UKESM1_MAX, [MAR_UKESM1_RUN_A, MAR_UKESM1_RUN_B], BLUE, BLUE_FILL, 7);
  ens(SEP_UKESM1_MEAN, SEP_UKESM1_MIN, SEP_UKESM1_MAX, [SEP_UKESM1_RUN_A, SEP_UKESM1_RUN_B], BLUE, BLUE_FILL, 7);
  ens(MAR_UKESM11_MEAN, MAR_UKESM11_MIN, MAR_UKESM11_MAX, [MAR_UKESM11_RUN_A, MAR_UKESM11_RUN_B], RED, RED_FILL, 4);
  ens(SEP_UKESM11_MEAN, SEP_UKESM11_MIN, SEP_UKESM11_MAX, [SEP_UKESM11_RUN_A, SEP_UKESM11_RUN_B], RED, RED_FILL, 4);
  add({ data: pts(OBS_YEARS, MAR_HADISST), borderColor: BLACK, borderWidth: 5, borderDash: DASH_OBS, order: 2 });
  add({ data: pts(OBS_YEARS, SEP_HADISST), borderColor: BLACK, borderWidth: 5, borderDash: DASH_OBS, order: 2 });
  add({ data: pts(OBS_YEARS, MAR_NSIDC), borderColor: GREY, borderWidth: 5, order: 2 });
  add({ data: pts(OBS_YEARS, SEP_NSIDC), borderColor: GREY, borderWidth: 5, order: 2 });
  add({ data: pts(TREND_YEARS, MAR_TREND_UKESM1), borderColor: BLUE, borderWidth: 4.5, order: 1 });
  add({ data: pts(TREND_YEARS, SEP_TREND_UKESM1), borderColor: BLUE, borderWidth: 4.5, order: 1 });
  add({ data: pts(TREND_YEARS, MAR_TREND_UKESM11), borderColor: RED, borderWidth: 4.5, order: 1 });
  add({ data: pts(TREND_YEARS, SEP_TREND_UKESM11), borderColor: RED, borderWidth: 4.5, order: 1 });
  add({ data: pts(TREND_YEARS, MAR_TREND_HADISST), borderColor: BLACK, borderWidth: 5, borderDash: DASH_OBS, order: 1 });
  add({ data: pts(TREND_YEARS, SEP_TREND_HADISST), borderColor: BLACK, borderWidth: 5, borderDash: DASH_OBS, order: 1 });
  add({ data: pts(TREND_YEARS, MAR_TREND_NSIDC), borderColor: GREY, borderWidth: 5, order: 1 });
  add({ data: pts(TREND_YEARS, SEP_TREND_NSIDC), borderColor: GREY, borderWidth: 5, order: 1 });
  return ds;
}

function sampleLine(ctx: CanvasRenderingContext2D, x0: number, x1: number, y: number, color: string, width: number, dash: number[]) {
  ctx.save();
  ctx.beginPath();
  ctx.strokeStyle = color;
  ctx.lineWidth = width;
  ctx.setLineDash(dash);
  ctx.lineCap = 'butt';
  ctx.moveTo(x0, y);
  ctx.lineTo(x1, y);
  ctx.stroke();
  ctx.restore();
}

function roundRect(ctx: CanvasRenderingContext2D, x: number, y: number, w: number, h: number, r: number) {
  ctx.beginPath();
  ctx.moveTo(x + r, y);
  ctx.lineTo(x + w - r, y);
  ctx.quadraticCurveTo(x + w, y, x + w, y + r);
  ctx.lineTo(x + w, y + h - r);
  ctx.quadraticCurveTo(x + w, y + h, x + w - r, y + h);
  ctx.lineTo(x + r, y + h);
  ctx.quadraticCurveTo(x, y + h, x, y + h - r);
  ctx.lineTo(x, y + r);
  ctx.quadraticCurveTo(x, y, x + r, y);
  ctx.closePath();
}

const SERIES_STYLES = [
  { color: BLACK, width: 4.5, dash: DASH_OBS },
  { color: GREY, width: 4.5, dash: [] as number[] },
  { color: BLUE, width: 4.5, dash: [] as number[] },
  { color: RED, width: 4.5, dash: [] as number[] },
];

const decor = {
  id: 'decor',
  beforeDraw(chart: any) {
    const ctx = chart.ctx;
    ctx.save();
    ctx.fillStyle = '#ffffff';
    ctx.fillRect(0, 0, chart.width, chart.height);
    ctx.restore();
  },
  afterDraw(chart: any) {
    const ctx: CanvasRenderingContext2D = chart.ctx;
    const a = chart.chartArea;
    const xs = chart.scales.x;
    const ys = chart.scales.y;
    ctx.save();
    ctx.strokeStyle = '#000';
    ctx.lineWidth = 2;
    ctx.strokeRect(a.left, a.top, a.right - a.left, a.bottom - a.top);
    for (let yr = 1850; yr <= 2015; yr += 5) {
      const px = Math.round(xs.getPixelForValue(yr));
      const len = X_TICKS.includes(yr) ? 12 : 7;
      ctx.beginPath();
      ctx.moveTo(px, a.bottom);
      ctx.lineTo(px, a.bottom + len);
      ctx.stroke();
    }
    Y_TICKS.forEach((v) => {
      const py = Math.round(ys.getPixelForValue(v));
      ctx.beginPath();
      ctx.moveTo(a.left - 12, py);
      ctx.lineTo(a.left, py);
      ctx.stroke();
    });
    ctx.fillStyle = '#000';
    ctx.textAlign = 'center';
    ctx.textBaseline = 'middle';
    ctx.font = `37px ${FONT}`;
    ctx.fillText(TITLE, 989, 44);
    ctx.font = `30px ${FONT}`;
    ctx.save();
    ctx.translate(38, (a.top + a.bottom) / 2);
    ctx.rotate(-Math.PI / 2);
    ctx.fillText(Y_LABEL, 0, 0);
    ctx.restore();

    // bottom legend
    const lx = 370, ly = 756, lw = 1080, lh = 51;
    ctx.fillStyle = 'rgba(0,0,0,0.4)';
    roundRect(ctx, lx + 6, ly + 6, lw, lh, 8);
    ctx.fill();
    ctx.fillStyle = '#fff';
    roundRect(ctx, lx, ly, lw, lh, 8);
    ctx.fill();
    ctx.strokeStyle = '#cccccc';
    ctx.lineWidth = 2;
    ctx.stroke();
    const legendX = [381, 740, 963, 1214];
    const legendY = ly + lh / 2;
    ctx.font = `28px ${FONT}`;
    ctx.textAlign = 'left';
    LEGEND_LABELS.forEach((lab, i) => {
      const st = SERIES_STYLES[i];
      sampleLine(ctx, legendX[i], legendX[i] + 58, legendY, st.color, st.width, st.dash);
      ctx.fillStyle = '#000';
      ctx.fillText(lab, legendX[i] + 80, legendY);
    });

    // right-hand trend panel (rows: UKESM1, UKESM1.1, HadISST, NSIDC)
    const order = [2, 3, 0, 1];
    ctx.fillStyle = '#000';
    ctx.font = `28px ${FONT}`;
    ctx.fillText(TREND_HEADER[0], 1729, 30);
    ctx.fillText(TREND_HEADER[1], 1729, 71);
    const panel = (head: string, labels: string[], y0: number) => {
      ctx.fillStyle = '#000';
      ctx.fillText(head, 1796, y0);
      labels.forEach((lab, i) => {
        const y = y0 + 45.5 * (i + 1);
        const st = SERIES_STYLES[order[i]];
        sampleLine(ctx, 1712, 1776, y, st.color, st.width, st.dash);
        ctx.fillStyle = '#000';
        ctx.fillText(lab, 1796, y);
      });
    };
    panel('Mar:', MAR_TREND_LABELS, 154);
    panel('Sep:', SEP_TREND_LABELS, 497);
    ctx.restore();
  },
};

export default function App() {
  const ref = useRef<HTMLCanvasElement>(null);
  useEffect(() => {
    if (!ref.current) return;
    Chart.defaults.font.family = FONT;
    const chart = new Chart(ref.current, {
      type: 'line',
      data: { datasets: buildDatasets() },
      options: {
        responsive: false,
        animation: false,
        devicePixelRatio: 1,
        events: [],
        layout: { padding: { top: 97, right: 404, left: 0, bottom: 0 } },
        plugins: { legend: { display: false }, tooltip: { enabled: false }, title: { display: false } },
        scales: {
          x: {
            type: 'linear',
            min: 1850,
            max: 2015,
            grid: { display: false, drawTicks: false },
            border: { display: false },
            ticks: { font: { size: 30, family: FONT }, color: '#000', padding: 19, maxRotation: 0, autoSkip: false, callback: (v: any) => String(v) },
            afterBuildTicks: (s: any) => { s.ticks = X_TICKS.map((value) => ({ value })); },
            afterFit: (s: any) => { s.height = 62; },
          },
          y: {
            type: 'linear',
            min: 0,
            max: 20.5,
            grid: { display: false, drawTicks: false },
            border: { display: false },
            ticks: { font: { size: 30, family: FONT }, color: '#000', padding: 22, autoSkip: false, callback: (v: any) => Number(v).toFixed(1) },
            afterBuildTicks: (s: any) => { s.ticks = Y_TICKS.map((value) => ({ value })); },
            afterFit: (s: any) => { s.width = 156; },
          },
        },
      } as any,
      plugins: [decor],
    });
    return () => chart.destroy();
  }, []);
  return (
    <div style={{ position: 'fixed', left: 0, top: 0, width: 2067, height: 883, background: '#fff' }}>
      <canvas ref={ref} width={2067} height={883} style={{ display: 'block', width: 2067, height: 883 }} />
    </div>
  );
}
